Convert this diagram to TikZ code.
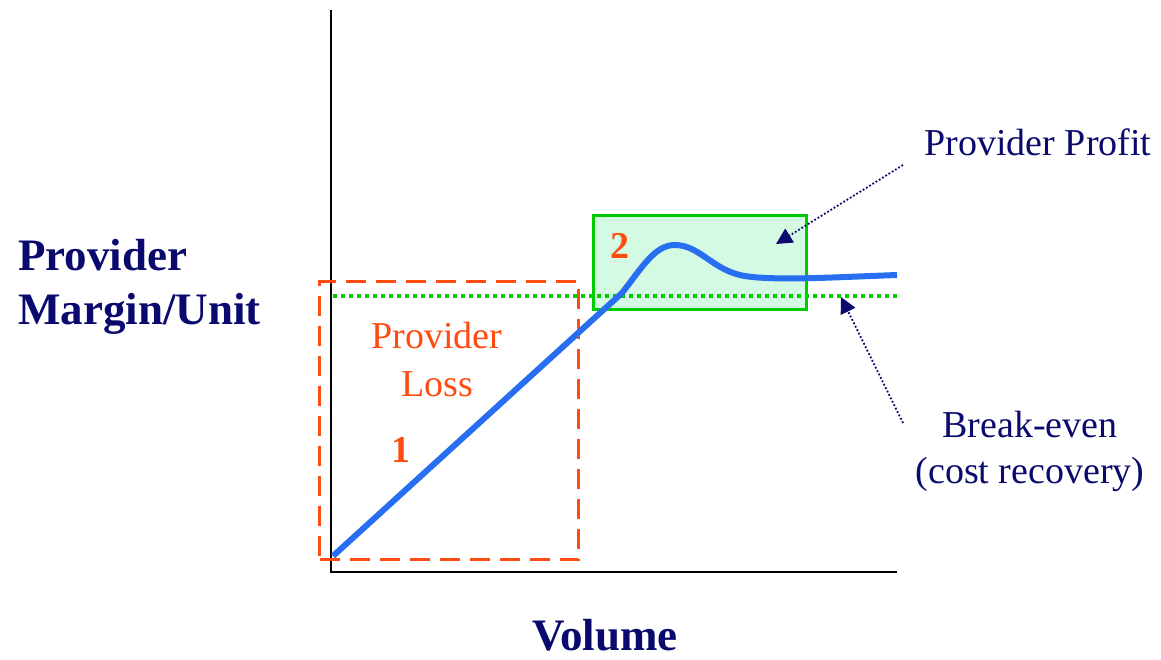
\documentclass[tikz,border=0pt]{standalone}
\usepackage{fontspec}
\setmainfont{Liberation Serif}
\usetikzlibrary{arrows.meta}
\definecolor{navy}{RGB}{10,10,110}
\definecolor{lossorange}{RGB}{255,75,15}
\definecolor{bgreen}{RGB}{0,205,0}
\definecolor{lgreen}{RGB}{212,250,228}
\definecolor{cblue}{RGB}{40,110,240}
\tikzset{
  axis/.style={line width=2.2pt, black},
  lossbox/.style={draw=lossorange, line width=3pt, dash pattern=on 20pt off 10pt},
  profitbox/.style={draw=bgreen, fill=lgreen, line width=2.8pt},
  evenline/.style={draw=bgreen, line width=4pt, dash pattern=on 4pt off 4pt},
  curve/.style={draw=cblue, line width=6pt},
  pointer/.style={draw=navy, line width=1.8pt, dotted, -{Triangle[length=16pt,width=16pt]}},
  lbl/.style={text=navy, font=\fontsize{38}{46}\selectfont, inner sep=0pt},
  blbl/.style={text=navy, font=\fontsize{45}{54}\selectfont\bfseries, inner sep=0pt},
  olbl/.style={text=lossorange, font=\fontsize{38}{48}\selectfont, inner sep=0pt},
  num/.style={text=lossorange, font=\fontsize{38}{40}\selectfont\bfseries, inner sep=0pt}
}
\begin{document}
\begin{tikzpicture}[x=1pt,y=-1pt]
\useasboundingbox (0,0) rectangle (1161,659);
% axes
\coordinate (ytop) at (331,10);
\coordinate (org) at (331,572);
\coordinate (xend) at (897,572);
\draw[axis] (ytop) -- (org) -- (xend);
% boxes
\node[profitbox, minimum width=213pt, minimum height=94pt, anchor=north west] (profitregion) at (592,214) {};
\node[lossbox, minimum width=259pt, minimum height=278pt, anchor=north west] (lossregion) at (318,280) {};
% break-even line
\coordinate (evs) at (333,296);
\coordinate (eve) at (897,296);
\draw[evenline] (evs) -- (eve);
% curve
\coordinate (c0) at (333,556);
\coordinate (c1) at (622,293);
\coordinate (c2) at (675,245);
\coordinate (c3) at (745,276);
\coordinate (c4) at (897,275);
\draw[curve] (c0) -- (c1) .. controls (643,266) and (655,245) .. (c2)
  .. controls (700,245) and (713,271) .. (c3)
  .. controls (775,281) and (840,277) .. (c4);
% labels
\node[num] (n2) at (620,246) {2};
\node[num] (n1) at (401,450) {1};
\node[olbl, align=center] (loss) at (437,359) {Provider\\Loss};
\node[lbl] (profit) at (1038,142) {Provider Profit};
\node[lbl, align=center] (breakeven) at (1030,451) {Break-even\\(cost recovery)};
\node[blbl, align=left, anchor=west] (ylabel) at (18,287) {Provider\\Margin/Unit};
\node[blbl, anchor=base, text depth=0pt] (xlabel) at (605,650) {Volume};
% pointers
\coordinate (pfrom) at (903,165);
\coordinate (pto) at (776,244);
\coordinate (bfrom) at (903,423);
\coordinate (bto) at (841,297);
\draw[pointer] (pfrom) -- (pto);
\draw[pointer] (bfrom) -- (bto);
\end{tikzpicture}
\end{document}
